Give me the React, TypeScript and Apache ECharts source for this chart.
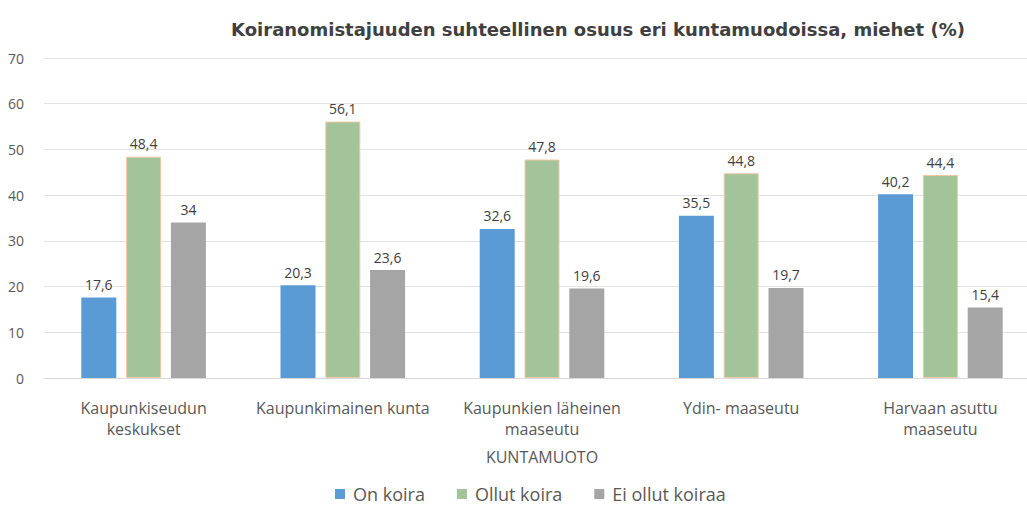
import React, { useEffect, useRef } from "react";
import * as echarts from "echarts";

const categories = [
  "Kaupunkiseudun\nkeskukset",
  "Kaupunkimainen kunta",
  "Kaupunkien läheinen\nmaaseutu",
  "Ydin- maaseutu",
  "Harvaan asuttu\nmaaseutu",
];
const onKoira = [17.6, 20.3, 32.6, 35.5, 40.2];
const ollutKoira = [48.4, 56.1, 47.8, 44.8, 44.4];
const eiOllutKoiraa = [34, 23.6, 19.6, 19.7, 15.4];
const seriesNames = ["On koira", "Ollut koira", "Ei ollut koiraa"];
const yTicks = { min: 0, max: 70, interval: 10 };

const FONT = "'Open Sans', 'Noto Sans', sans-serif";

export default function App() {
  const ref = useRef<HTMLDivElement>(null);
  useEffect(() => {
    document.body.style.margin = "0";
    const chart = echarts.init(ref.current!, null, { renderer: "svg" });
    const label = {
      show: true,
      position: "top",
      distance: 6,
      color: "#404040",
      fontSize: 14,
      fontFamily: FONT,
      formatter: (p: any) => String(p.value).replace(".", ","),
    };
    chart.setOption({
      animation: false,
      backgroundColor: "#ffffff",
      textStyle: { fontFamily: FONT },
      title: {
        text: "Koiranomistajuuden suhteellinen osuus eri kuntamuodoissa, miehet (%)",
        left: 593,
        textAlign: "center",
        top: 15,
        textStyle: {
          fontSize: 18,
          fontWeight: "bold",
          color: "#404040",
          fontFamily: "'DejaVu Sans', sans-serif",
        },
      },
      legend: {
        data: seriesNames,
        left: 330,
        top: 480,
        itemWidth: 10,
        itemHeight: 10,
        itemGap: 32,
        icon: "rect",
        itemStyle: { borderWidth: 0 },
        textStyle: { fontSize: 18, color: "#595959", fontFamily: FONT, padding: [0, 0, 0, 3] },
      },
      grid: { left: 44, top: 58, width: 996, height: 320, containLabel: false },
      xAxis: {
        type: "category",
        data: categories,
        name: "KUNTAMUOTO",
        nameLocation: "middle",
        nameGap: 71,
        nameTextStyle: { fontSize: 16, color: "#595959", fontFamily: FONT },
        axisLine: { lineStyle: { color: "#d9d9d9" } },
        axisTick: { show: false },
        axisLabel: {
          fontSize: 16,
          color: "#595959",
          margin: 19,
          lineHeight: 21,
          interval: 0,
          fontFamily: FONT,
        },
      },
      yAxis: {
        type: "value",
        min: yTicks.min,
        max: yTicks.max,
        interval: yTicks.interval,
        axisLine: { show: false },
        axisTick: { show: false },
        splitLine: { lineStyle: { color: "#e3e3e3" } },
        axisLabel: { fontSize: 14, color: "#595959", margin: 20, fontFamily: FONT },
      },
      series: [
        {
          name: seriesNames[0],
          type: "bar",
          data: onKoira,
          barWidth: 35,
          barGap: "28%",
          itemStyle: { color: "#5b9bd5" },
          label,
        },
        {
          name: seriesNames[1],
          type: "bar",
          data: ollutKoira,
          barWidth: 35,
          barGap: "28%",
          itemStyle: { color: "#a3c49a", borderColor: "#f0c8a4", borderWidth: 1 },
          label,
        },
        {
          name: seriesNames[2],
          type: "bar",
          data: eiOllutKoiraa,
          barWidth: 35,
          barGap: "28%",
          itemStyle: { color: "#a5a5a5" },
          label,
        },
      ],
    });
    return () => chart.dispose();
  }, []);
  return (
    <div style={{ width: 1027, height: 507, overflow: "hidden" }}>
      <div ref={ref} style={{ width: 1050, height: 507 }} />
    </div>
  );
}
